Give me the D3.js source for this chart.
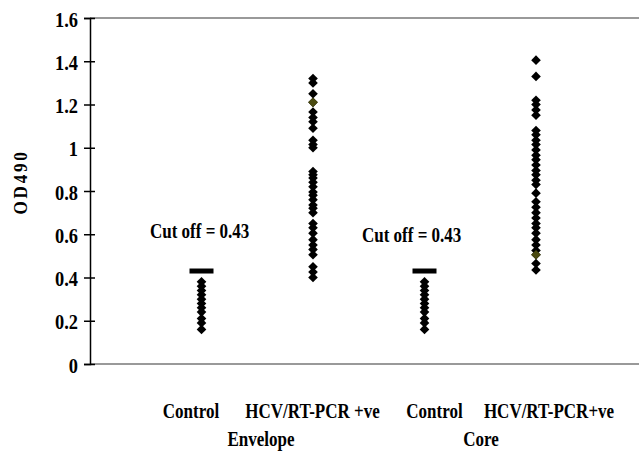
<!DOCTYPE html>
<html>
<head>
<meta charset="utf-8">
<script src="https://cdn.jsdelivr.net/npm/d3@7"></script>
<style>
  body { margin: 0; background: #fff; }
  text { font-family: "Liberation Serif", "Times New Roman", serif; font-weight: bold; fill: #000; }
</style>
</head>
<body>
<svg id="chart" width="639" height="451"></svg>
<script>
// groups along the x axis (1..4)
const groups = ["Control", "HCV/RT-PCR +ve", "Control", "HCV/RT-PCR+ve"];
const antigens = ["Envelope", "Core"];
const yTicks = [0, 0.2, 0.4, 0.6, 0.8, 1, 1.2, 1.4, 1.6];
const cutOff = 0.43;

// OD490 readings per group
const envControl = [0.38, 0.36, 0.34, 0.32, 0.30, 0.28, 0.26, 0.24, 0.21, 0.19, 0.16];
const envHcv = [1.32, 1.30, 1.25, 1.21, 1.165, 1.14, 1.12, 1.09, 1.035, 1.015, 1.0,
  0.89, 0.875, 0.86, 0.84, 0.82, 0.795, 0.78, 0.76, 0.735, 0.72, 0.70,
  0.65, 0.63, 0.605, 0.575, 0.55, 0.53, 0.505, 0.45, 0.425, 0.40];
const coreControl = [0.38, 0.36, 0.34, 0.32, 0.30, 0.28, 0.26, 0.24, 0.21, 0.19, 0.16];
const coreHcv = [1.405, 1.33, 1.22, 1.20, 1.175, 1.15, 1.08, 1.06, 1.035, 1.015, 0.99,
  0.965, 0.945, 0.92, 0.895, 0.875, 0.85, 0.83, 0.79, 0.75, 0.725, 0.70,
  0.675, 0.65, 0.63, 0.605, 0.575, 0.55, 0.525, 0.505, 0.465, 0.435];
// the odd olive-coloured marker in each positive column
const envOlive = 1.21;
const coreOlive = 0.505;

const svg = d3.select("#chart");
const x = d3.scaleLinear().domain([0, 5]).range([90, 647.5]);
const y = d3.scaleLinear().domain([0, 1.6]).range([364, 18]);

// narrow, tall bold serif like the original
function label(txt, px, py, anchor, size, sx) {
  return svg.append("text")
    .attr("transform", `translate(${px},${py}) scale(${sx},1)`)
    .attr("text-anchor", anchor)
    .attr("font-size", size)
    .text(txt);
}

// plot frame: grey top and bottom
svg.append("line").attr("x1", 90).attr("x2", 639).attr("y1", y(1.6)).attr("y2", y(1.6))
  .attr("stroke", "#999").attr("stroke-width", 2);
svg.append("line").attr("x1", 90).attr("x2", 639).attr("y1", y(0)).attr("y2", y(0))
  .attr("stroke", "#999").attr("stroke-width", 2);

// y axis
const yAxis = d3.axisLeft(y).tickValues(yTicks).tickFormat(d3.format("")).tickSize(6).tickPadding(0);
const ya = svg.append("g").attr("transform", "translate(90,0)").call(yAxis);
ya.select(".domain").attr("stroke", "#000").attr("stroke-width", 1.5);
ya.selectAll(".tick line").attr("stroke", "#000").attr("stroke-width", 1.5).attr("x1", 5);
ya.selectAll(".tick text")
  .attr("x", -13).attr("dy", "0.4em")
  .attr("transform", "scale(0.92,1)")
  .attr("font-size", 20)
  .style("font-family", "Liberation Serif, serif").style("font-weight", "bold");

svg.append("text")
  .attr("transform", "translate(27,182) rotate(-90) scale(0.9,1)")
  .attr("text-anchor", "middle")
  .attr("font-size", 19)
  .attr("letter-spacing", 3)
  .text("OD490");

// data series
const series = [
  {x: 1, values: envControl},
  {x: 2, values: envHcv},
  {x: 3, values: coreControl},
  {x: 4, values: coreHcv}
];
const diamond = "M0,-4.8L4.8,0L0,4.8L-4.8,0Z";
series.forEach(s => {
  svg.append("g").selectAll("path")
    .data(s.values)
    .join("path")
    .attr("d", diamond)
    .attr("transform", d => `translate(${x(s.x)},${y(d)})`)
    .attr("fill", "#000");
});
svg.append("path").attr("d", diamond)
  .attr("transform", `translate(${x(2)},${y(envOlive)})`).attr("fill", "#4a4a10");
svg.append("path").attr("d", diamond)
  .attr("transform", `translate(${x(4)},${y(coreOlive)})`).attr("fill", "#4a4a10");

// cut-off markers over the control groups
[1, 3].forEach(g => {
  svg.append("rect")
    .attr("x", x(g) - 12).attr("y", y(cutOff) - 2.5)
    .attr("width", 24).attr("height", 5)
    .attr("fill", "#000");
});
label("Cut off = " + cutOff, 150, 238, "start", 20, 0.85);
label("Cut off = " + cutOff, 362, 242, "start", 20, 0.85);

// category labels
const labelX = [191, 312.5, 434.5, 549];
groups.forEach((g, i) => label(g, labelX[i], 418, "middle", 20, 0.85));
antigens.forEach((a, i) => label(a, [261, 481][i], 446, "middle", 20, 0.85));
</script>
</body>
</html>
